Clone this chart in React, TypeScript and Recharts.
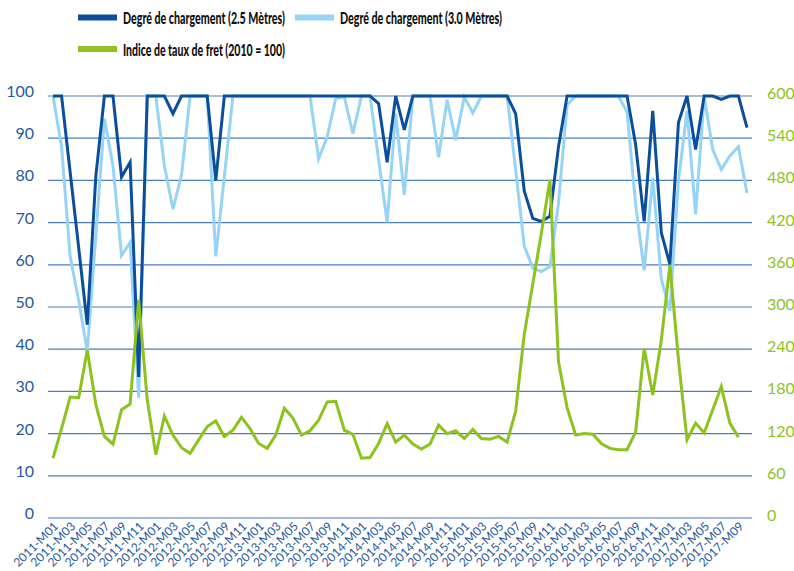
import React from 'react';
import { LineChart, Line, XAxis, YAxis, CartesianGrid, Legend } from 'recharts';

const categories: string[] = Array.from({ length: 82 }, (_, i) =>
  `${2011 + Math.floor(i / 12)}-M${String((i % 12) + 1).padStart(2, '0')}`
);

// Degré de chargement (2.5 Mètres)
const load25: number[] = [
  100, 100, 82, 64, 45.8, 81, 100, 100, 80.8, 84.3, 33.4, 100,
  100, 100, 95.8, 100, 100, 100, 100, 80, 100, 100, 100, 100,
  100, 100, 100, 100, 100, 100, 100, 100, 100, 100, 100, 100,
  100, 100, 98.2, 84.3, 100, 92, 100, 100, 100, 100, 100, 100,
  100, 100, 100, 100, 100, 100, 95.8, 77.5, 71, 70.3, 71.5, 88,
  100, 100, 100, 100, 100, 100, 100, 100, 88.5, 70.3, 96.5, 67.6,
  60.1, 93.7, 100, 87.3, 100, 100, 99.2, 100, 100, 92.5,
];

// Degré de chargement (3.0 Mètres)
const load30: number[] = [
  100, 88, 62, 51.5, 39.5, 67, 94.6, 83.5, 62.2, 65.3, 28.5, 100,
  100, 83.5, 73.2, 81.2, 100, 100, 100, 62, 81, 100, 100, 100,
  100, 100, 100, 100, 100, 100, 100, 85.1, 90.3, 99.4, 99.8, 91.1,
  100, 100, 85, 70.1, 95.8, 76.6, 100, 100, 100, 85.5, 99.1, 89.5,
  99.8, 96, 100, 100, 100, 100, 82.5, 64.5, 59.2, 58.4, 59.6, 74.6,
  97.9, 100, 100, 100, 100, 100, 100, 96.2, 74.4, 58.7, 80.6, 56.6,
  49.1, 80, 96.5, 72, 99.8, 87.3, 82.6, 85.8, 88, 77,
];

// Indice de taux de fret (2010 = 100)
const freight: (number | null)[] = [
  85, 127, 172, 171, 239, 161, 116, 105, 154, 162, 310, 168,
  90, 145, 118, 100, 92, 111, 130, 138, 116, 125, 143, 127,
  106, 99, 118, 156, 142, 118, 124, 139, 165, 166, 125, 119,
  85, 86, 106, 134, 108, 118, 105, 98, 105, 132, 120, 124,
  113, 126, 113, 112, 116, 108, 152, 261, 333, 405, 481, 222,
  157, 118, 120, 119, 106, 99, 97, 97, 122, 241, 175, 253,
  360, 225, 111, 135, 121, 154, 187, 135, 115, null,
];

const leftTicks: number[] = [0, 10, 20, 30, 40, 50, 60, 70, 80, 90, 100];
const rightTicks: number[] = [0, 60, 120, 180, 240, 300, 360, 420, 480, 540, 600];

const seriesNames = {
  load25: 'Degré de chargement (2.5 Mètres)',
  load30: 'Degré de chargement (3.0 Mètres)',
  freight: 'Indice de taux de fret (2010 = 100)',
};

const DARK = '#0b4f9c';
const LIGHT = '#96d4f5';
const GREEN = '#8dc21f';
const GRID = '#4c7db8';
const BLUE_TEXT = '#1f5a9c';
const FONT = 'Lato, "Open Sans", sans-serif';

const data = categories.map((c, i) => ({
  month: c,
  load25: load25[i],
  load30: load30[i],
  freight: freight[i],
}));

const XTick = (props: any) => {
  const { x, payload } = props;
  const ax = x + 6;
  const ay = 527;
  return (
    <text
      x={ax}
      y={ay}
      transform={`rotate(-45, ${ax}, ${ay})`}
      textAnchor="end"
      fill={BLUE_TEXT}
      fontSize={12}
      fontFamily={FONT}
    >
      {payload.value}
    </text>
  );
};

const LeftTick = (props: any) => {
  const { y, payload } = props;
  return (
    <text x={34} y={y} dy={1} textAnchor="end" fill={BLUE_TEXT} fontSize={16} fontFamily={FONT}>
      {payload.value}
    </text>
  );
};

const RightTick = (props: any) => {
  const { y, payload } = props;
  return (
    <text x={767} y={y} dy={3} textAnchor="start" fill={GREEN} fontSize={16} fontFamily={FONT}>
      {payload.value}
    </text>
  );
};

const legendLayout: Record<string, { x: number; y: number }> = {
  load25: { x: 78, y: 17.5 },
  load30: { x: 295, y: 17.5 },
  freight: { x: 78, y: 49 },
};

const LegendContent = (props: any) => {
  const payload: any[] = props.payload || [];
  const order = ['load25', 'load30', 'freight'];
  const items = order
    .map((k) => payload.find((p) => p.dataKey === k))
    .filter(Boolean);
  return (
    <svg width={794} height={62} style={{ display: 'block' }}>
      {items.map((p: any) => {
        const pos = legendLayout[p.dataKey];
        return (
          <g key={p.dataKey}>
            <rect x={pos.x} y={pos.y - 3} width={39} height={6} fill={p.color} />
            <text
              x={pos.x + 45}
              y={pos.y + 6.5}
              fontSize={17}
              fontWeight={900}
              fontFamily={FONT}
              fill="#111"
              textLength={162}
              lengthAdjust="spacingAndGlyphs"
            >
              {p.value}
            </text>
          </g>
        );
      })}
    </svg>
  );
};

export default function App() {
  return (
    <div style={{ position: 'fixed', left: 0, top: 0, width: 794, height: 571, background: '#fff' }}>
      <LineChart
        width={794}
        height={571}
        data={data}
        margin={{ top: 96, right: 0, bottom: 0, left: 0 }}
      >
        <CartesianGrid vertical={false} stroke={GRID} strokeWidth={1.2} yAxisId="left" />
        <XAxis
          dataKey="month"
          interval={1}
          axisLine={false}
          tickLine={false}
          height={53}
          padding={{ left: 5, right: 5 }}
          tick={<XTick />}
        />
        <YAxis
          yAxisId="left"
          orientation="left"
          domain={[0, 100]}
          ticks={leftTicks}
          width={48}
          axisLine={false}
          tickLine={false}
          tick={<LeftTick />}
          interval={0}
        />
        <YAxis
          yAxisId="right"
          orientation="right"
          domain={[0, 600]}
          ticks={rightTicks}
          width={42}
          axisLine={false}
          tickLine={false}
          tick={<RightTick />}
          interval={0}
        />
        <Legend
          layout="horizontal"
          verticalAlign="middle"
          align="center"
          content={<LegendContent />}
          wrapperStyle={{ top: 0, left: 0, width: 794, height: 62 }}
        />
        <Line
          yAxisId="left"
          type="linear"
          dataKey="load30"
          name={seriesNames.load30}
          stroke={LIGHT}
          strokeWidth={3}
          dot={false}
          isAnimationActive={false}
        />
        <Line
          yAxisId="left"
          type="linear"
          dataKey="load25"
          name={seriesNames.load25}
          stroke={DARK}
          strokeWidth={3}
          dot={false}
          isAnimationActive={false}
        />
        <Line
          yAxisId="right"
          type="linear"
          dataKey="freight"
          name={seriesNames.freight}
          stroke={GREEN}
          strokeWidth={3}
          dot={false}
          isAnimationActive={false}
        />
      </LineChart>
    </div>
  );
}
